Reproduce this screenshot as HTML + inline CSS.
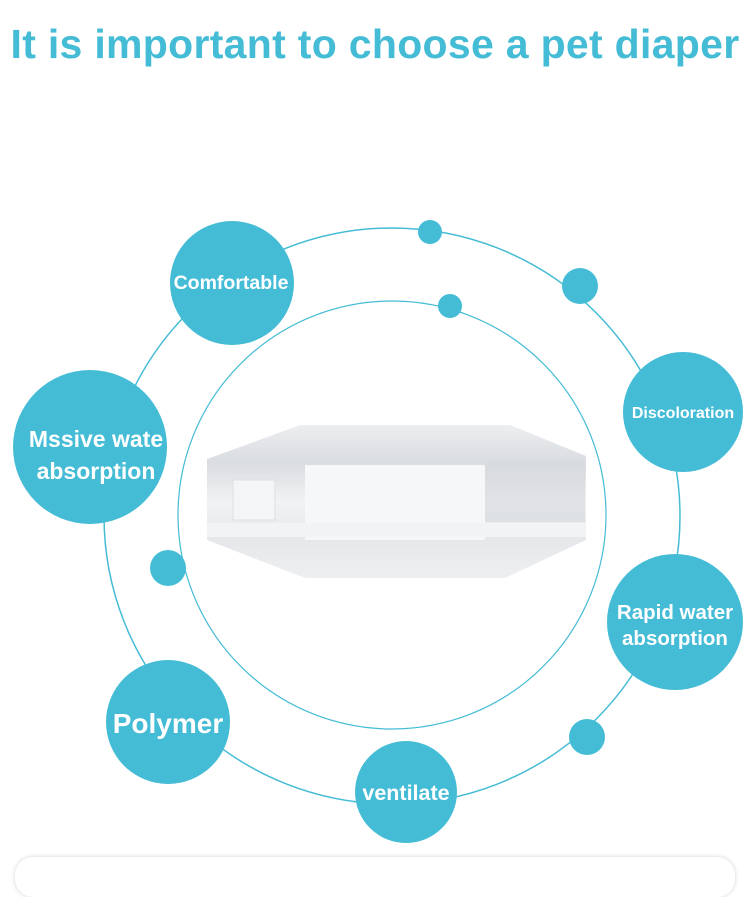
<!DOCTYPE html>
<html><head><style>
body{margin:0;width:750px;height:869px;background:#fff;overflow:hidden;position:relative;font-family:"Liberation Sans",Arial,sans-serif}
h1{margin:0;position:absolute;top:21px;left:0;width:750px;text-align:center;font-size:41px;font-weight:bold;color:#45bcd6;letter-spacing:0.3px}
.card{position:absolute;left:15px;top:857px;width:720px;height:40px;border-radius:18px;box-shadow:0 0 5px rgba(0,0,0,0.18);background:#fff}
</style></head><body>
<h1>It is important to choose a pet diaper</h1>
<svg width="750" height="869" style="position:absolute;left:0;top:0">
<defs>
<linearGradient id="g" x1="0" y1="0" x2="0" y2="1">
<stop offset="0" stop-color="#eceef0"/><stop offset="0.25" stop-color="#d9dce0"/><stop offset="0.5" stop-color="#f1f2f4"/><stop offset="0.75" stop-color="#e5e7ea"/><stop offset="1" stop-color="#eeeff1"/>
</linearGradient>
</defs>
<circle cx="392" cy="516" r="288" fill="none" stroke="#45bcd6" stroke-width="1.5"/>
<circle cx="392" cy="515" r="214" fill="none" stroke="#45bcd6" stroke-width="1.2"/>
<polygon points="300,425 510,425 586,456 586,540 505,578 305,578 207,540 207,459" fill="url(#g)"/>
<rect x="305" y="465" width="180" height="75" fill="#f6f7f8"/>
<rect x="233" y="480" width="42" height="40" fill="#f4f5f7" stroke="#dde0e3"/>
<rect x="485" y="462" width="100" height="60" fill="#d5d8dc" opacity="0.6"/>
<rect x="207" y="523" width="379" height="14" fill="#f2f3f5"/>
<g fill="#45bcd6">
<circle cx="232" cy="283" r="62"/>
<circle cx="90" cy="447" r="77"/>
<circle cx="683" cy="412" r="60"/>
<circle cx="675" cy="622" r="68"/>
<circle cx="168" cy="722" r="62"/>
<circle cx="406" cy="792" r="51"/>
<circle cx="430" cy="232" r="12"/>
<circle cx="580" cy="286" r="18"/>
<circle cx="450" cy="306" r="12"/>
<circle cx="168" cy="568" r="18"/>
<circle cx="587" cy="737" r="18"/>
</g>
<g fill="#fff" font-family="Liberation Sans,Arial,sans-serif" font-weight="bold" text-anchor="middle">
<text x="231" y="289" font-size="19.5">Comfortable</text>
<text x="96" y="447" font-size="23">Mssive wate</text>
<text x="96" y="479" font-size="23">absorption</text>
<text x="683" y="418" font-size="16">Discoloration</text>
<text x="675" y="619" font-size="20.5">Rapid water</text>
<text x="675" y="645" font-size="20.5">absorption</text>
<text x="168" y="733" font-size="28">Polymer</text>
<text x="406" y="800" font-size="21.5">ventilate</text>
</g>
</svg>
<div class="card"></div>
</body></html>
